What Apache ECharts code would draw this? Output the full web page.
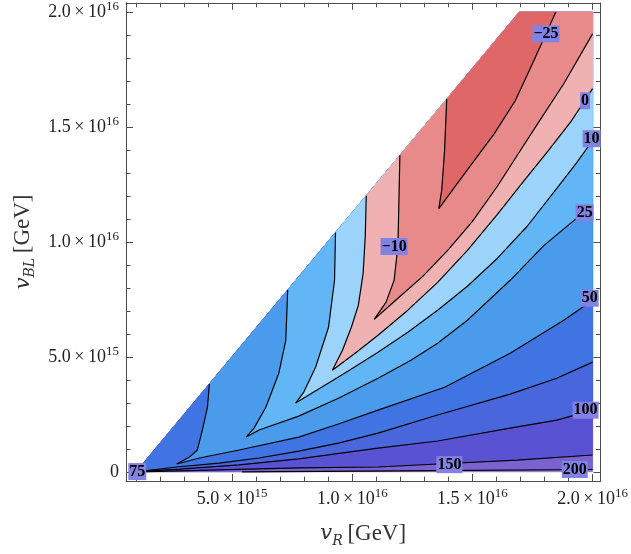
<!DOCTYPE html>
<html>
<head>
<meta charset="utf-8">
<title>Contour plot</title>
<script src="https://cdn.jsdelivr.net/npm/echarts@6.0.0/dist/echarts.min.js"></script>
<style>
html,body{margin:0;padding:0;background:#ffffff;}
#chart{width:631px;height:554px;}
</style>
</head>
<body>
<div id="chart"></div>
<script>
// All coordinates in units of 10^15 GeV : [vR, vBL]
const contourLevels = [-25, -10, 0, 10, 25, 50, 75, 100, 150, 200];

const contourM25 = [[13.93,16.21],[13.84,13.97],[13.72,12.24],[13.60,11.45],[14.71,13.02],[15.91,14.71],[16.78,16.14],[17.40,17.53],[17.93,18.75],[18.47,20]];
const contourM10 = [[11.98,13.77],[11.94,11.80],[11.90,9.85],[11.74,8.33],[11.40,7.37],[10.91,6.63],[11.90,7.55],[12.93,8.50],[13.97,9.63],[15.00,10.89],[16.03,12.41],[16.86,13.76],[17.69,15.10],[18.80,16.88],[20,19.05]];
const contour0 = [[10.58,12.01],[10.54,10.28],[10.45,8.63],[10.25,7.24],[9.96,6.29],[9.59,5.29],[9.17,4.42],[10.17,5.20],[11.07,5.94],[12.31,7.03],[13.55,8.24],[14.79,9.63],[16.03,11.19],[17.15,12.67],[18.10,13.89],[19.13,15.28],[20,16.67]];
const contour10 = [[9.30,10.41],[9.26,8.33],[9.01,6.29],[8.47,4.55],[7.98,3.47],[7.64,2.99],[8.60,3.60],[9.83,4.38],[11.07,5.20],[12.31,6.07],[13.55,7.03],[14.79,8.07],[16.03,9.28],[17.27,10.67],[18.60,12.45],[19.34,13.45],[20,14.41]];
const contour25 = [[7.31,7.91],[7.23,5.72],[6.94,4.29],[6.40,2.81],[5.91,1.90],[5.58,1.51],[6.12,1.82],[7.77,2.42],[9.42,3.20],[11.07,4.07],[12.44,4.85],[13.55,5.59],[14.79,6.59],[16.57,8.33],[17.98,9.85],[19.13,10.85],[20,11.58]];
const contour50 = [[4.05,3.82],[3.97,2.81],[3.76,1.82],[3.55,0.95],[3.22,0.64],[2.69,0.34],[3.64,0.60],[5.29,0.95],[7.77,1.51],[9.42,2.08],[11.07,2.68],[13.84,3.68],[16.57,5.16],[18.80,6.59],[20,7.46]];
const contour75 = [[1,0],[2.69,0.21],[4.46,0.38],[6.12,0.60],[7.77,0.90],[9.42,1.25],[11.07,1.68],[13.55,2.47],[16.57,3.38],[18.51,4.07],[20,4.77]];
const contour100 = [[1,0],[2.81,0.12],[5.29,0.30],[7.77,0.56],[11.07,1.03],[13.55,1.34],[16.57,1.90],[18.51,2.25],[20,2.68]];
const contour150 = [[1,0],[3.64,0.06],[7.77,0.17],[11.07,0.21],[13.55,0.34],[16.86,0.51],[20,0.73]];
const contour200 = [[5.41,0],[12.0,0.04],[20,0.10]];

// colour of the band below each level; the last one is above the highest level
const bandColors = ['#e06767','#e88a8a','#efb1b1','#9bd3fb','#63b6f6','#4a9bec','#3f74e2','#4a66dc','#5953d4','#7b63cf','#8c68c8'];

// corners of the computed region
const regionBottomLeft = [1, 0];
const regionTopLeft = [16.95, 20];
const regionTopRight = [20, 20];
const regionBottomRight = [20, 0];

// contour labels
const labelLevels = [-25, -10, 0, 10, 25, 50, 75, 100, 150, 200];
const labelVR = [18.06, 11.74, 19.69, 19.96, 19.67, 19.88, 1.05, 19.71, 14.04, 19.26];
const labelVBL = [19.05, 9.80, 16.14, 14.49, 11.27, 7.55, 0.01, 2.68, 0.31, 0.10];

// ticks
const xMajorTicks = [5, 10, 15, 20];
const xMinorTicks = [1, 2, 3, 4, 6, 7, 8, 9, 11, 12, 13, 14, 16, 17, 18, 19];
const yMajorTicks = [0, 5, 10, 15, 20];
const yMinorTicks = [1, 2, 3, 4, 6, 7, 8, 9, 11, 12, 13, 14, 16, 17, 18, 19];
const tickLabelValues = [0, 5, 10, 15, 20];
const tickLabelMantissa = ['0', '5.0', '1.0', '1.5', '2.0'];
const tickLabelExponent = ['', '15', '16', '16', '16'];

const X_MIN = 0.58, X_MAX = 20.33, Y_MIN = -0.4, Y_MAX = 20.4;

const contourLines = [contourM25, contourM10, contour0, contour10, contour25, contour50, contour75, contour100, contour150, contour200];

function regionBelow(line) {
  const pts = line.slice();
  const end = line[line.length - 1];
  const start = line[0];
  if (end[1] < regionTopRight[1]) pts.push(regionTopRight);
  pts.push(regionTopLeft);
  if (start[1] === regionBottomLeft[1] && start[0] > regionBottomLeft[0]) pts.push(regionBottomLeft);
  return pts;
}

const fills = [{ poly: [regionBottomLeft, regionTopLeft, regionTopRight, regionBottomRight], color: bandColors[contourLevels.length] }];
for (let i = contourLevels.length - 1; i >= 0; i--) {
  fills.push({ poly: regionBelow(contourLines[i]), color: bandColors[i] });
}

const SERIF = 'Liberation Serif';
const frameColor = '#4d4d4d';
const textColor = '#222';

function tickFormatter(v) {
  const idx = tickLabelValues.findIndex(t => Math.abs(t - v) < 1e-6);
  if (idx < 0) return '';
  if (!tickLabelExponent[idx]) return '{m|' + tickLabelMantissa[idx] + '}';
  return '{m|' + tickLabelMantissa[idx] + '\u2009×\u200910}{s|' + tickLabelExponent[idx] + '}';
}
const tickRich = {
  m: { fontFamily: SERIF, fontSize: 18, color: textColor, lineHeight: 24, verticalAlign: 'middle' },
  s: { fontFamily: SERIF, fontSize: 13, color: textColor, lineHeight: 13, verticalAlign: 'top' }
};
const nameRich = {
  v: { fontFamily: 'DejaVu Serif', fontStyle: 'italic', fontSize: 21, color: '#333', lineHeight: 28, verticalAlign: 'middle' },
  s: { fontFamily: 'DejaVu Serif', fontStyle: 'italic', fontSize: 14, color: '#333', lineHeight: 14, verticalAlign: 'bottom' },
  t: { fontFamily: SERIF, fontSize: 23, color: '#333', lineHeight: 28, verticalAlign: 'middle' }
};

function makeX(position, ticks, len, withLabels, withLine) {
  const ax = {
    type: 'value', gridIndex: 0, position: position, min: X_MIN, max: X_MAX,
    axisLine: { show: withLine, onZero: false, lineStyle: { color: frameColor, width: 1 } },
    axisTick: { show: true, inside: true, length: len, customValues: ticks, lineStyle: { color: frameColor, width: 1 } },
    axisLabel: { show: withLabels, customValues: ticks, margin: 6, fontSize: 18, fontFamily: SERIF, formatter: tickFormatter, rich: tickRich },
    splitLine: { show: false }
  };
  if (withLabels) {
    ax.name = '{v|v}{s|R}{t|\u2009[GeV]}';
    ax.nameLocation = 'middle';
    ax.nameGap = 39;
    ax.nameTextStyle = { rich: nameRich };
  }
  return ax;
}
function makeY(position, ticks, len, withLabels, withLine) {
  const ax = {
    type: 'value', gridIndex: 0, position: position, min: Y_MIN, max: Y_MAX,
    axisLine: { show: withLine, onZero: false, lineStyle: { color: frameColor, width: 1 } },
    axisTick: { show: true, inside: true, length: len, customValues: ticks, lineStyle: { color: frameColor, width: 1 } },
    axisLabel: { show: withLabels, customValues: ticks, margin: 7, fontSize: 18, fontFamily: SERIF, formatter: tickFormatter, rich: tickRich },
    splitLine: { show: false }
  };
  if (withLabels) {
    ax.name = '{v|v}{s|BL}{t|\u2009[GeV]}';
    ax.nameLocation = 'middle';
    ax.nameRotate = 90;
    ax.nameGap = 82;
    ax.nameTextStyle = { rich: nameRich };
  }
  return ax;
}

const series = [];
series.push({
  type: 'custom', coordinateSystem: 'cartesian2d', xAxisIndex: 0, yAxisIndex: 0,
  silent: true, z: 1,
  data: fills.map((f, i) => [f.poly[0][0], f.poly[0][1], i]),
  encode: { x: 0, y: 1 },
  renderItem: function (params, api) {
    const f = fills[params.dataIndex];
    return {
      type: 'polygon',
      shape: { points: f.poly.map(p => api.coord(p)) },
      style: { fill: f.color, stroke: f.color, lineWidth: 0.6 }
    };
  }
});
contourLines.forEach((ln, i) => {
  series.push({
    type: 'line', name: 'c' + contourLevels[i], xAxisIndex: 0, yAxisIndex: 0,
    data: ln, symbol: 'none', showSymbol: false, silent: true, z: 3,
    lineStyle: { color: '#000', width: 1.2 }
  });
});
series.push({
  type: 'custom', coordinateSystem: 'cartesian2d', xAxisIndex: 0, yAxisIndex: 0,
  silent: true, z: 5,
  data: labelLevels.map((lv, i) => [labelVR[i], labelVBL[i], lv]),
  encode: { x: 0, y: 1 },
  renderItem: function (params, api) {
    const pt = api.coord([api.value(0), api.value(1)]);
    const lv = api.value(2);
    const txt = lv < 0 ? '\u2212' + Math.abs(lv) : String(lv);
    return {
      type: 'text', x: pt[0], y: pt[1],
      style: {
        text: txt, fill: '#000', fontFamily: SERIF, fontWeight: 'bold', fontSize: 16,
        backgroundColor: '#8282e4', padding: [1, 1, 0, 1], lineHeight: 16,
        align: 'center', verticalAlign: 'middle'
      }
    };
  }
});

const chart = echarts.init(document.getElementById('chart'), null, { renderer: 'canvas' });
chart.setOption({
  animation: false,
  backgroundColor: '#ffffff',
  grid: { left: 126, right: 27, top: 2, bottom: 73, containLabel: false },
  xAxis: [
    makeX('bottom', xMajorTicks, 7, true, true),
    makeX('bottom', xMinorTicks, 4.5, false, false),
    makeX('top', xMajorTicks, 7, false, true),
    makeX('top', xMinorTicks, 4.5, false, false)
  ],
  yAxis: [
    makeY('left', yMajorTicks, 7, true, true),
    makeY('left', yMinorTicks, 4.5, false, false),
    makeY('right', yMajorTicks, 7, false, true),
    makeY('right', yMinorTicks, 4.5, false, false)
  ],
  series: series
});
</script>
</body>
</html>
